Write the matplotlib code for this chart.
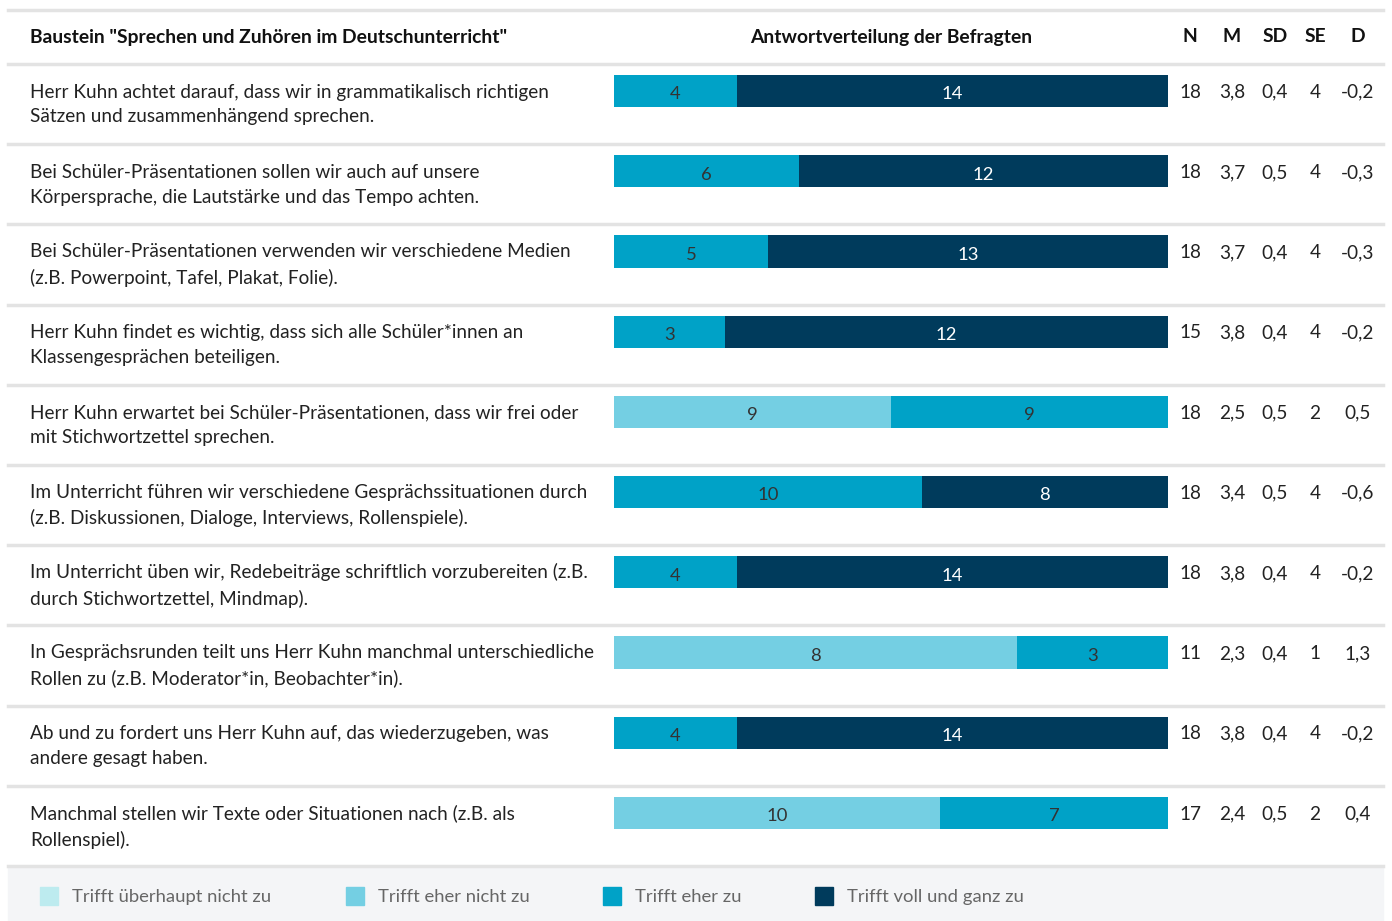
import matplotlib.pyplot as plt
import numpy as np

plt.rcParams['font.family'] = ['Lato', 'DejaVu Sans']

title = 'Baustein "Sprechen und Zuhören im Deutschunterricht"'
items = [
    "Herr Kuhn achtet darauf, dass wir in grammatikalisch richtigen\nSätzen und zusammenhängend sprechen.",
    "Bei Schüler-Präsentationen sollen wir auch auf unsere\nKörpersprache, die Lautstärke und das Tempo achten.",
    "Bei Schüler-Präsentationen verwenden wir verschiedene Medien\n(z.B. Powerpoint, Tafel, Plakat, Folie).",
    "Herr Kuhn findet es wichtig, dass sich alle Schüler*innen an\nKlassengesprächen beteiligen.",
    "Herr Kuhn erwartet bei Schüler-Präsentationen, dass wir frei oder\nmit Stichwortzettel sprechen.",
    "Im Unterricht führen wir verschiedene Gesprächssituationen durch\n(z.B. Diskussionen, Dialoge, Interviews, Rollenspiele).",
    "Im Unterricht üben wir, Redebeiträge schriftlich vorzubereiten (z.B.\ndurch Stichwortzettel, Mindmap).",
    "In Gesprächsrunden teilt uns Herr Kuhn manchmal unterschiedliche\nRollen zu (z.B. Moderator*in, Beobachter*in).",
    "Ab und zu fordert uns Herr Kuhn auf, das wiederzugeben, was\nandere gesagt haben.",
    "Manchmal stellen wir Texte oder Situationen nach (z.B. als\nRollenspiel).",
]
categories = ["Trifft überhaupt nicht zu", "Trifft eher nicht zu", "Trifft eher zu", "Trifft voll und ganz zu"]
counts_1 = [0, 0, 0, 0, 0, 0, 0, 0, 0, 0]
counts_2 = [0, 0, 0, 0, 9, 0, 0, 8, 0, 10]
counts_3 = [4, 6, 5, 3, 9, 10, 4, 3, 4, 7]
counts_4 = [14, 12, 13, 12, 0, 8, 14, 0, 14, 0]
stat_cols = ["N", "M", "SD", "SE", "D"]
n_vals = ["18", "18", "18", "15", "18", "18", "18", "11", "18", "17"]
m_vals = ["3,8", "3,7", "3,7", "3,8", "2,5", "3,4", "3,8", "2,3", "3,8", "2,4"]
sd_vals = ["0,4", "0,5", "0,4", "0,4", "0,5", "0,5", "0,4", "0,4", "0,4", "0,5"]
se_vals = ["4", "4", "4", "4", "2", "4", "4", "1", "4", "2"]
d_vals = ["-0,2", "-0,3", "-0,3", "-0,2", "0,5", "-0,6", "-0,2", "1,3", "-0,2", "0,4"]

colors = ["#bdebef", "#74cfe3", "#00a2c7", "#003b5c"]
text_colors = ["#333333", "#333333", "#333333", "#ffffff"]

W, H = 1392, 921
fig = plt.figure(figsize=(W / 100, H / 100), dpi=100)
ax = fig.add_axes([0, 0, 1, 1])
ax.set_xlim(0, W)
ax.set_ylim(H, 0)
ax.axis("off")

row_top = 64
row_h = 80.2
n = len(items)
grid_c = "#e3e3e3"

# legend background
ax.add_patch(plt.Rectangle((8, 866), 1375, 60, color="#f4f5f7", zorder=0))

# grid lines
ax.plot([8, 1383], [10, 10], color=grid_c, lw=2.5)
for i in range(n + 1):
    y = row_top + i * row_h
    ax.plot([8, 1383], [y, y], color=grid_c, lw=2.5)

# header
ax.text(30, 37, title, fontsize=13.9, fontweight="bold", va="center", color="#111111")
ax.text(891, 37, "Antwortverteilung der Befragten", fontsize=13.9, fontweight="bold",
        va="center", ha="center", color="#111111")
stat_x = [1190, 1232, 1275, 1315, 1358]
for x, lab in zip(stat_x, stat_cols):
    ax.text(x, 37, lab, fontsize=13.9, fontweight="bold", va="center", ha="center", color="#111111")

# row texts and stats
stats = [n_vals, m_vals, sd_vals, se_vals, d_vals]
for i, txt in enumerate(items):
    y0 = row_top + i * row_h
    ax.text(30, y0 + 40.5, txt, fontsize=13.7, va="center", ha="left",
            color="#222222", linespacing=1.56)
    for x, col in zip(stat_x, stats):
        ax.text(x, y0 + 28.3, col[i], fontsize=13.7, va="center", ha="center", color="#222222")

# bars
x0, x1 = 614, 1168
bax = fig.add_axes([x0 / W, 1 - (row_top - 13 + n * row_h) / H, (x1 - x0) / W, n * row_h / H])
bax.set_xlim(0, 1)
bax.set_ylim(n - 0.5, -0.5)
bax.axis("off")
data = np.array([counts_1, counts_2, counts_3, counts_4], dtype=float)
totals = data.sum(axis=0)
shares = data / totals
left = np.zeros(n)
for k in range(4):
    bax.barh(np.arange(n), shares[k], left=left, height=0.4, color=colors[k])
    for i in range(n):
        if data[k, i] > 0:
            bax.text(left[i] + shares[k, i] / 2, i + 0.04, str(int(data[k, i])),
                     ha="center", va="center", fontsize=13.3, color=text_colors[k])
    left += shares[k]

# legend
leg_x = [40, 346, 603, 815]
for x, lab, c in zip(leg_x, categories, colors):
    ax.add_patch(plt.Rectangle((x, 887), 18, 18, color=c))
    ax.text(x + 32, 897, lab, fontsize=13.3, va="center", color="#666666")

fig.savefig("out.png", dpi=100)
